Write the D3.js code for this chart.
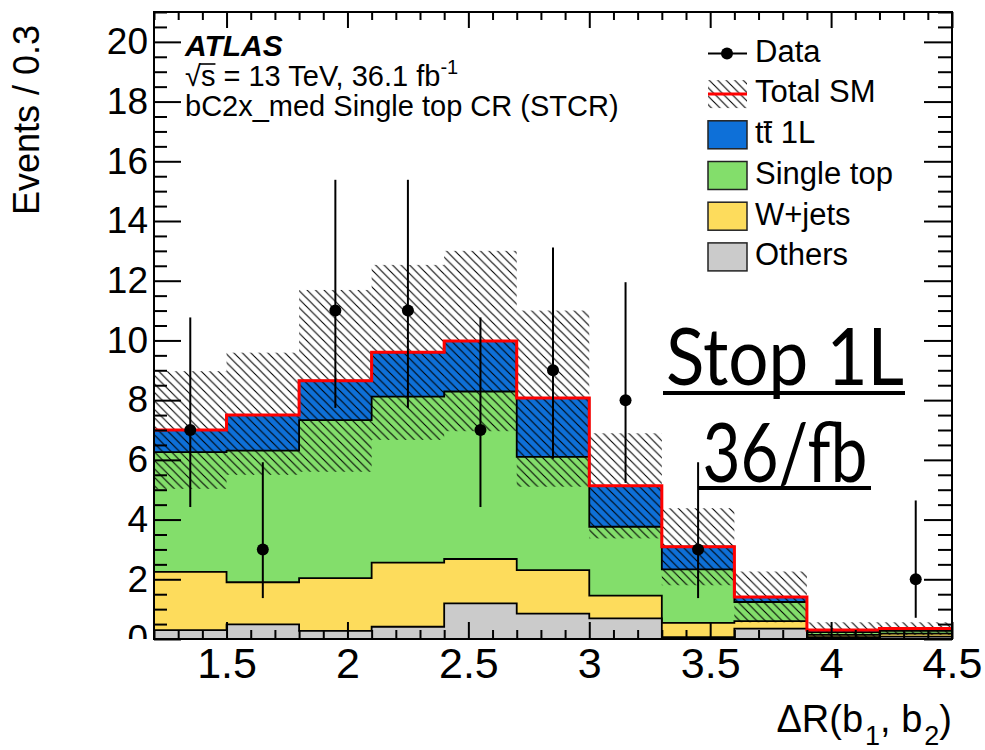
<!DOCTYPE html>
<html>
<head>
  <meta charset="utf-8">
  <title>Delta R(b1, b2) - STCR</title>
  <style>
    html, body { margin: 0; padding: 0; background: #fff; }
    svg { display: block; font-family: "Liberation Sans", Arial, Helvetica, sans-serif; }
    .axis path.domain { display: none; }
    .axis line { stroke: #000; stroke-width: 2; }
  </style>
</head>
<body>
<svg id="chart" width="985" height="750"></svg>

<script src="https://cdn.jsdelivr.net/npm/d3@7/dist/d3.min.js"></script>
<script>
// bin edges of Delta R(b1,b2), 0.3 wide
var binEdges = [1.2, 1.5, 1.8, 2.1, 2.4, 2.7, 3.0, 3.3, 3.6, 3.9, 4.2, 4.5];

// backgrounds (events per bin)
var others    = [0.30, 0.49, 0.27, 0.41, 1.19, 0.85, 0.69, 0.06, 0.35, 0.06, 0.08];
var wjets     = [1.95, 1.41, 1.77, 2.15, 1.49, 1.46, 0.76, 0.48, 0.25, 0.08, 0.10];
var singleTop = [4.01, 4.41, 5.29, 5.56, 5.61, 3.79, 2.31, 1.79, 0.64, 0.09, 0.09];
var ttbar1L   = [0.74, 1.19, 1.32, 1.48, 1.69, 1.97, 1.37, 0.76, 0.17, 0.07, 0.08];

// total SM uncertainty band
var bandLow  = [5.03, 5.50, 5.60, 6.67, 6.96, 5.10, 3.37, 1.80, 0.56, 0.04, 0.14];
var bandHigh = [8.97, 9.59, 11.69, 12.53, 13.00, 11.00, 6.89, 4.38, 2.26, 0.56, 0.56];

// data with asymmetric error bars
var dataCounts = [7, 3, 11, 11, 7, 9, 8, 3, 0, 0, 2];
var dataLow    = [4.42, 1.37, 7.74, 7.74, 4.42, 6.04, 5.23, 1.37, 0, 0, 0.71];
var dataHigh   = [10.77, 5.92, 15.38, 15.38, 10.77, 13.11, 11.95, 5.92, 0, 0, 4.64];

var xMajor = [1.5, 2, 2.5, 3, 3.5, 4, 4.5];
var yMajor = [0, 2, 4, 6, 8, 10, 12, 14, 16, 18, 20];

(function() {
var svg = d3.select('#chart');

var pLeft = 154, pRight = 952, pTop = 12, pBottom = 639;

var x = d3.scaleLinear().domain([1.2, 4.5]).range([pLeft, pRight]);
var y = d3.scaleLinear().domain([0, 21]).range([pBottom, pTop]);

var defs = svg.append('defs');
defs.append('pattern')
    .attr('id', 'hatch')
    .attr('patternUnits', 'userSpaceOnUse')
    .attr('width', 8.5).attr('height', 8.5)
  .append('path')
    .attr('d', 'M-2,-2L10.5,10.5M-2,6.5L2,10.5M6.5,-2L10.5,2')
    .attr('stroke', '#000')
    .attr('stroke-width', 1.1);
defs.append('clipPath').attr('id', 'ylabclip')
  .append('rect').attr('x', 0).attr('y', 0).attr('width', pLeft).attr('height', pBottom);

// table for the stack
var rows = binEdges.slice(0, -1).map(function(e, i) {
    return { x0: e, others: others[i], wjets: wjets[i], singleTop: singleTop[i], ttbar: ttbar1L[i] };
});
var keys = ['others', 'wjets', 'singleTop', 'ttbar'];
var colors = { others: '#cbcbcb', wjets: '#fddc5c', singleTop: '#83de6b', ttbar: '#0e70d8' };
var layers = d3.stack().keys(keys)(rows);

// step points: one per bin plus closing point at last edge
function stepPoints(vals) {
    var pts = vals.map(function(v, i) { return [binEdges[i], v]; });
    pts.push([binEdges[binEdges.length - 1], vals[vals.length - 1]]);
    return pts;
}

var area = d3.area()
    .curve(d3.curveStepAfter)
    .x(function(d) { return x(d[0]); })
    .y0(y(0))
    .y1(function(d) { return y(d[1]); });

var line = d3.line()
    .curve(d3.curveStepAfter)
    .x(function(d) { return x(d[0]); })
    .y(function(d) { return y(d[1]); });

// draw cumulative histograms from the top of the stack down
var hist = svg.append('g');
layers.slice().reverse().forEach(function(layer) {
    var tops = layer.map(function(d) { return d[1]; });
    hist.append('path')
        .attr('d', area(stepPoints(tops)))
        .attr('fill', colors[layer.key])
        .attr('stroke', '#000')
        .attr('stroke-width', 1.8);
});

// uncertainty band
svg.append('g').selectAll('rect')
    .data(bandLow)
  .enter().append('rect')
    .attr('x', function(d, i) { return x(binEdges[i]); })
    .attr('width', function(d, i) { return x(binEdges[i + 1]) - x(binEdges[i]); })
    .attr('y', function(d, i) { return y(bandHigh[i]); })
    .attr('height', function(d, i) { return y(d) - y(bandHigh[i]); })
    .attr('fill', 'url(#hatch)');

// total SM line
var total = layers[layers.length - 1].map(function(d) { return d[1]; });
svg.append('path')
    .attr('d', line(stepPoints(total)))
    .attr('fill', 'none')
    .attr('stroke', '#ff0000')
    .attr('stroke-width', 3);

// data
var centers = binEdges.slice(0, -1).map(function(e, i) { return (e + binEdges[i + 1]) / 2; });
var dg = svg.append('g');
dataCounts.forEach(function(n, i) {
    if (n <= 0) return;
    dg.append('line')
        .attr('x1', x(centers[i])).attr('x2', x(centers[i]))
        .attr('y1', y(dataLow[i])).attr('y2', y(dataHigh[i]))
        .attr('stroke', '#000').attr('stroke-width', 2);
    dg.append('circle')
        .attr('cx', x(centers[i])).attr('cy', y(n)).attr('r', 6)
        .attr('fill', '#000');
});

// axes: ticks point inwards like ROOT
function minorVals(lo, hi, step, majors) {
    return d3.range(Math.round(lo / step), Math.round(hi / step) + 1)
        .map(function(k) { return +(k * step).toFixed(3); })
        .filter(function(v) { return majors.indexOf(v) < 0; });
}
var xMinor = minorVals(1.2, 4.5, 0.1, xMajor);
var yMinor = minorVals(0, 21, 0.5, yMajor);

var xAxis = svg.append('g').attr('class', 'axis').attr('transform', 'translate(0,' + pBottom + ')')
    .call(d3.axisBottom(x).tickValues(xMajor).tickSize(-17).tickSizeOuter(0).tickPadding(8)
        .tickFormat(function(d) { return String(d); }));
xAxis.selectAll('text').attr('font-size', 43).attr('fill', '#000')
    .attr('font-family', '"Liberation Sans", Arial, sans-serif');
svg.append('g').attr('class', 'axis').attr('transform', 'translate(0,' + pBottom + ')')
    .call(d3.axisBottom(x).tickValues(xMinor).tickSize(-9).tickSizeOuter(0).tickFormat(''));
svg.append('g').attr('class', 'axis').attr('transform', 'translate(0,' + pTop + ')')
    .call(d3.axisTop(x).tickValues(xMajor).tickSize(-16).tickSizeOuter(0).tickFormat(''));
svg.append('g').attr('class', 'axis').attr('transform', 'translate(0,' + pTop + ')')
    .call(d3.axisTop(x).tickValues(xMinor).tickSize(-8).tickSizeOuter(0).tickFormat(''));

var yAxis = svg.append('g').attr('class', 'axis').attr('transform', 'translate(' + pLeft + ',0)')
    .call(d3.axisLeft(y).tickValues(yMajor).tickSize(-27).tickSizeOuter(0).tickPadding(6));
yAxis.selectAll('text').attr('font-size', 37).attr('fill', '#000')
    .attr('font-family', '"Liberation Sans", Arial, sans-serif');
svg.append('g').attr('class', 'axis').attr('transform', 'translate(' + pLeft + ',0)')
    .call(d3.axisLeft(y).tickValues(yMinor).tickSize(-13).tickSizeOuter(0).tickFormat(''));
svg.append('g').attr('class', 'axis').attr('transform', 'translate(' + pRight + ',0)')
    .call(d3.axisRight(y).tickValues(yMajor).tickSize(-28).tickSizeOuter(0).tickFormat(''));
svg.append('g').attr('class', 'axis').attr('transform', 'translate(' + pRight + ',0)')
    .call(d3.axisRight(y).tickValues(yMinor).tickSize(-14).tickSizeOuter(0).tickFormat(''));

// the "0" label is cut by the bottom axis in the original
yAxis.selectAll('.tick').filter(function(d) { return d === 0; }).each(function() {
    var txt = d3.select(this).select('text');
    var tr = d3.select(this).attr('transform');
    txt.remove();
    svg.append('g').attr('clip-path', 'url(#ylabclip)')
      .append('g').attr('transform', 'translate(' + pLeft + ',0) ' + tr)
      .append('text')
        .attr('x', -6).attr('dy', '0.32em')
        .attr('text-anchor', 'end')
        .attr('font-size', 37)
        .text('0');
});

// frame
svg.append('rect')
    .attr('x', pLeft).attr('y', pTop)
    .attr('width', pRight - pLeft).attr('height', pBottom - pTop)
    .attr('fill', 'none').attr('stroke', '#000').attr('stroke-width', 2);

// axis titles
var xt = svg.append('text')
    .attr('x', pRight).attr('y', 732)
    .attr('text-anchor', 'end')
    .attr('font-size', 38);
xt.append('tspan').text('\u0394R(b');
xt.append('tspan').attr('font-size', 27).attr('dx', 2).attr('dy', 13).text('1');
xt.append('tspan').attr('dy', -13).text(', b');
xt.append('tspan').attr('font-size', 27).attr('dx', 2).attr('dy', 13).text('2');
xt.append('tspan').attr('dy', -13).text(')');

svg.append('text')
    .attr('transform', 'translate(39,25) rotate(-90)')
    .attr('text-anchor', 'end')
    .attr('font-size', 36)
    .text('Events / 0.3');

// ATLAS label block
svg.append('text')
    .attr('x', 185).attr('y', 56)
    .attr('font-size', 30).attr('font-weight', 'bold').attr('font-style', 'italic')
    .text('ATLAS');
var lumi = svg.append('text').attr('x', 185).attr('y', 86).attr('font-size', 29);
lumi.append('tspan').text('\u221As');
lumi.append('tspan').text(' = 13 TeV, 36.1 fb');
lumi.append('tspan').attr('font-size', 20).attr('dy', -12).text('-1');
// bar over the s of the root sign
var ln = lumi.node();
var w0 = ln.getSubStringLength(0, 1), w1 = ln.getSubStringLength(1, 1);
svg.append('line')
    .attr('x1', 185 + w0 - 1).attr('x2', 185 + w0 + w1)
    .attr('y1', 86 - 22).attr('y2', 86 - 22)
    .attr('stroke', '#000').attr('stroke-width', 1.6);
svg.append('text')
    .attr('x', 185).attr('y', 116)
    .attr('font-size', 29)
    .text('bC2x_med Single top CR (STCR)');

// legend
var legendItems = [
    { label: 'Data', type: 'data' },
    { label: 'Total SM', type: 'total' },
    { label: 'tt 1L', type: 'box', color: colors.ttbar },
    { label: 'Single top', type: 'box', color: colors.singleTop },
    { label: 'W+jets', type: 'box', color: colors.wjets },
    { label: 'Others', type: 'box', color: colors.others }
];
var lg = svg.append('g');
legendItems.forEach(function(it, i) {
    var base = 61.7 + i * 40.7, cy = base - 8.3;
    var g = lg.append('g');
    if (it.type === 'data') {
        g.append('line').attr('x1', 708).attr('x2', 747).attr('y1', cy).attr('y2', cy)
            .attr('stroke', '#000').attr('stroke-width', 2);
        g.append('circle').attr('cx', 727).attr('cy', cy).attr('r', 6).attr('fill', '#000');
    } else if (it.type === 'total') {
        g.append('rect').attr('x', 708).attr('y', cy - 14).attr('width', 39).attr('height', 28)
            .attr('fill', 'url(#hatch)');
        g.append('line').attr('x1', 708).attr('x2', 747).attr('y1', cy).attr('y2', cy)
            .attr('stroke', '#ff0000').attr('stroke-width', 3);
    } else {
        g.append('rect').attr('x', 708).attr('y', cy - 14).attr('width', 39).attr('height', 28)
            .attr('fill', it.color).attr('stroke', '#222').attr('stroke-width', 1.5);
    }
    var t = g.append('text').attr('x', 755).attr('y', base).attr('font-size', 31).text(it.label);
    if (it.label === 'tt 1L') {
        // bar over the second t
        var tn = t.node();
        var a = tn.getSubStringLength(0, 1), b = tn.getSubStringLength(1, 1);
        g.append('line')
            .attr('x1', 755 + a).attr('x2', 755 + a + b)
            .attr('y1', base - 21).attr('y2', base - 21)
            .attr('stroke', '#000').attr('stroke-width', 2);
    }
});

// big stamp text
var stamp = svg.append('g').attr('font-family', 'Lato, "Open Sans", sans-serif');
stamp.append('text')
    .attr('x', 785).attr('y', 385)
    .attr('text-anchor', 'middle')
    .attr('font-size', 79)
    .attr('textLength', 238).attr('lengthAdjust', 'spacingAndGlyphs')
    .text('Stop 1L');
stamp.append('rect').attr('x', 663).attr('y', 391).attr('width', 242).attr('height', 4).attr('fill', '#000');
stamp.append('text')
    .attr('x', 785).attr('y', 482)
    .attr('text-anchor', 'middle')
    .attr('font-size', 81)
    .attr('textLength', 165).attr('lengthAdjust', 'spacingAndGlyphs')
    .text('36/fb');
stamp.append('rect').attr('x', 699).attr('y', 486).attr('width', 172).attr('height', 4).attr('fill', '#000');
})();
</script>
</body>
</html>
